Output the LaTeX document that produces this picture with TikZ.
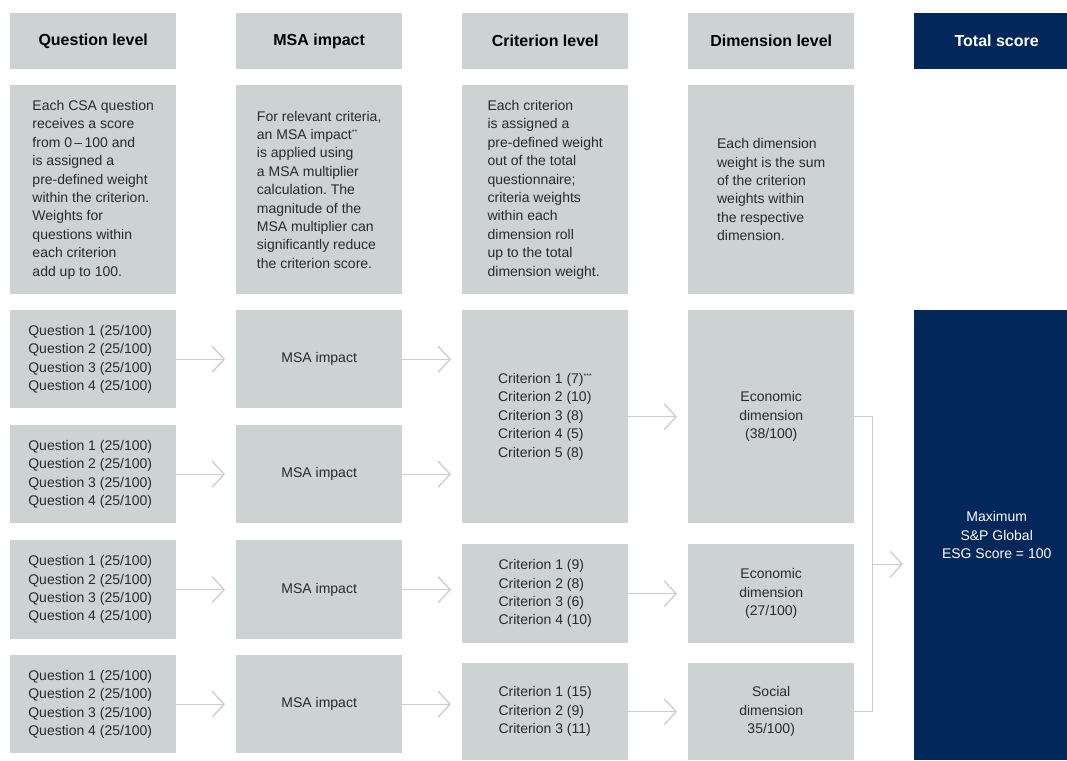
\documentclass[tikz,border=0pt]{standalone}
\usepackage{fontspec}
\setmainfont{Liberation Sans}
\usetikzlibrary{arrows.meta,calc}
\definecolor{boxgray}{HTML}{CDD2D3}
\definecolor{navy}{HTML}{02275A}
\definecolor{linegray}{HTML}{C8CDCF}
\definecolor{txt}{HTML}{2A2A2A}
\newcommand{\fn}[1]{\textsuperscript{\scriptsize #1}}
\frenchspacing
\begin{document}
\begin{tikzpicture}[x=1pt,y=-1pt,
  base/.style={anchor=north west, inner sep=0pt, minimum width=166pt,
    font=\fontsize{14}{18.4}\selectfont, text=txt},
  gbox/.style={base, fill=boxgray},
  nbox/.style={base, fill=navy, text=white},
  head/.style={font=\fontsize{16}{19}\bfseries\selectfont, text=black, minimum height=56pt},
  desc/.style={align=left, minimum height=209pt},
  rowbox/.style={align=left, minimum height=#1},
  arr/.style={draw=linegray, line width=1.3pt,
    -{Straight Barb[length=12pt,width=26pt,line width=1.3pt]}, shorten >=11pt},
  link/.style={draw=linegray, line width=1.3pt}
]
\useasboundingbox (0,0) rectangle (1067,760);

% column headers
\node[gbox, head] (hq) at (10,13)  {Question level};
\node[gbox, head] (hm) at (236,13) {MSA impact};
\node[gbox, head] (hc) at (462,13) {Criterion level};
\node[gbox, head] (hd) at (688,13) {Dimension level};
\node[nbox, head, text=white, minimum width=153pt] (ht) at (914,13) {\hspace*{12pt}Total score};

% descriptions
\node[gbox, desc] (dq) at (10,85) {Each CSA question\\receives a score\\from 0\,–\,100 and\\is assigned a\\pre-defined weight\\within the criterion.\\Weights for\\questions within\\each criterion\\add up to 100.};
\node[gbox, desc] (dm) at (236,85) {For relevant criteria,\\an MSA impact\fn{**}\\is applied using\\a MSA multiplier\\calculation. The\\magnitude of the\\MSA multiplier can\\significantly reduce\\the criterion score.};
\node[gbox, desc] (dc) at (462,85) {Each criterion\\is assigned a\\pre-defined weight\\out of the total\\questionnaire;\\criteria weights\\within each\\dimension roll\\up to the total\\dimension weight.};
\node[gbox, desc] (dd) at (688,85) {Each dimension\\weight is the sum\\of the criterion\\weights within\\the respective\\dimension.};

% question level
\node[gbox, rowbox=98pt] (q1) at (10,310) {Question 1 (25/100)\\Question 2 (25/100)\\Question 3 (25/100)\\Question 4 (25/100)\hspace*{6pt}};
\node[gbox, rowbox=98pt] (q2) at (10,425) {Question 1 (25/100)\\Question 2 (25/100)\\Question 3 (25/100)\\Question 4 (25/100)\hspace*{6pt}};
\node[gbox, rowbox=99pt] (q3) at (10,540) {Question 1 (25/100)\\Question 2 (25/100)\\Question 3 (25/100)\\Question 4 (25/100)\hspace*{6pt}};
\node[gbox, rowbox=98pt] (q4) at (10,655) {Question 1 (25/100)\\Question 2 (25/100)\\Question 3 (25/100)\\Question 4 (25/100)\hspace*{6pt}};

% MSA impact
\node[gbox, rowbox=98pt] (m1) at (236,310) {MSA impact};
\node[gbox, rowbox=98pt] (m2) at (236,425) {MSA impact};
\node[gbox, rowbox=99pt] (m3) at (236,540) {MSA impact};
\node[gbox, rowbox=98pt] (m4) at (236,655) {MSA impact};

% criterion level
\node[gbox, rowbox=213pt] (c1) at (462,310) {Criterion 1 (7)\fn{***}\\Criterion 2 (10)\\Criterion 3 (8)\\Criterion 4 (5)\\Criterion 5 (8)};
\node[gbox, rowbox=99pt] (c2) at (462,544) {Criterion 1 (9)\\Criterion 2 (8)\\Criterion 3 (6)\\Criterion 4 (10)};
\node[gbox, rowbox=97pt] (c3) at (462,663) {Criterion 1 (15)\\Criterion 2 (9)\\Criterion 3 (11)};

% dimension level
\node[gbox, rowbox=213pt, align=center] (d1) at (688,310) {Economic\\dimension\\(38/100)};
\node[gbox, rowbox=99pt, align=center] (d2) at (688,544) {Economic\\dimension\\(27/100)};
\node[gbox, rowbox=97pt, align=center] (d3) at (688,663) {Social\\dimension\\35/100)};

% total score
\node[nbox, minimum width=153pt, minimum height=450pt, align=center] (tot) at (914,310) {\hspace*{12pt}Maximum\\\hspace*{12pt}S\&P Global\\\hspace*{12pt}ESG Score = 100};

% connectors
\foreach \i in {1,...,4} {
  \draw[arr] (q\i.east) -- (m\i.west);
}
\draw[arr] (m1.east) -- (m1.east -| c1.west);
\draw[arr] (m2.east) -- (m2.east -| c1.west);
\draw[arr] (m3.east) -- (m3.east -| c2.west);
\draw[arr] (m4.east) -- (m4.east -| c3.west);

\draw[arr] (c1.east) -- (d1.west);
\draw[arr] (c2.east) -- (d2.west);
\draw[arr] (c3.east) -- (d3.west);

\draw[link] (d1.east) -- ++(18,0) |- (d3.east);
\coordinate (join) at ($ (d1.east)!0.5!(d3.east) + (18,0) $);
\draw[arr] (join) -- (join -| tot.west);
\end{tikzpicture}
\end{document}
